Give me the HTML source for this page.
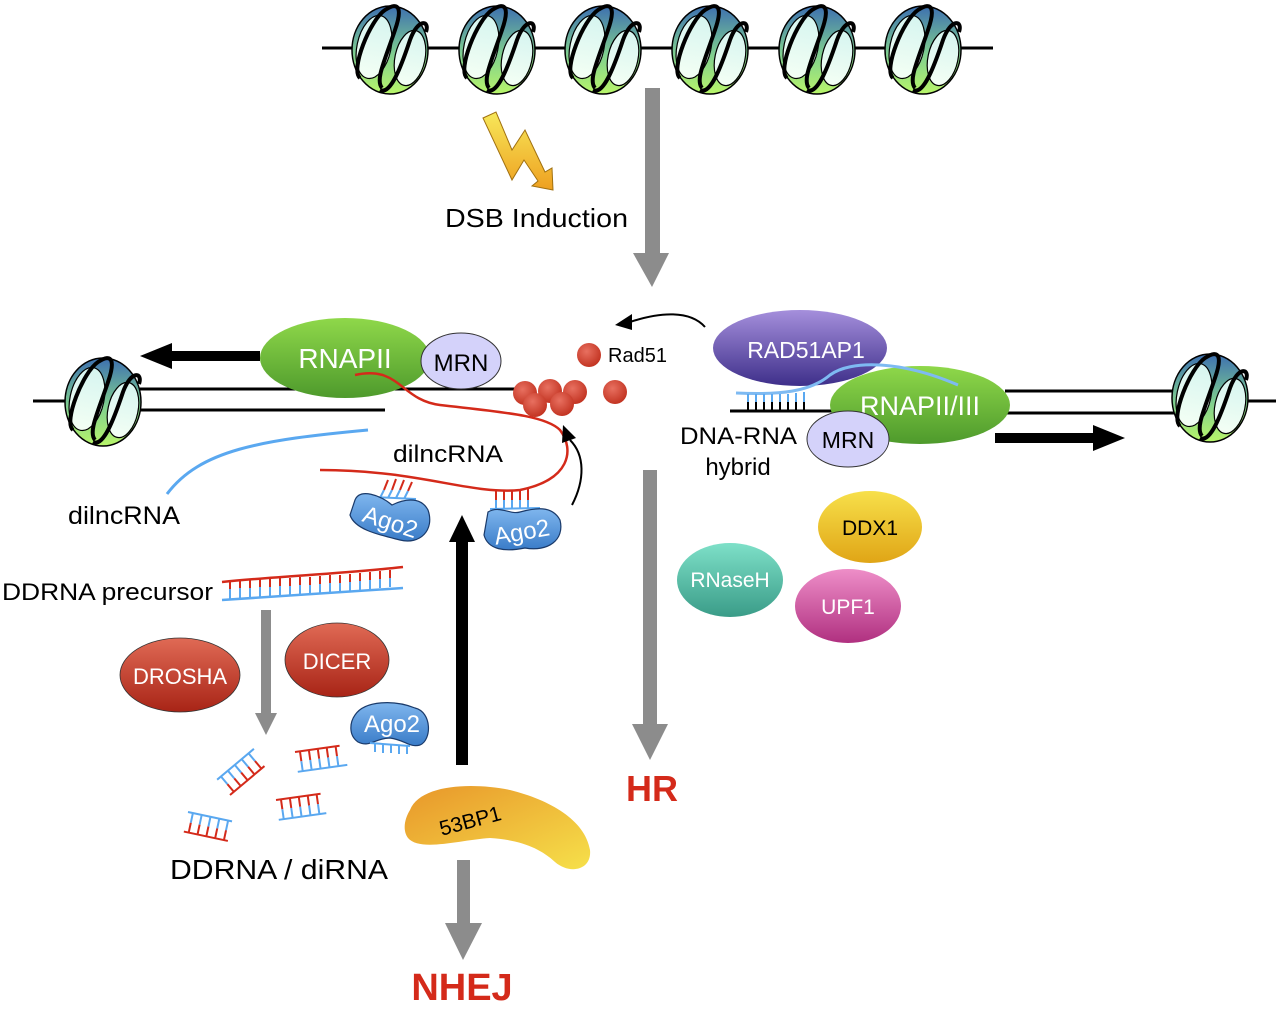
<!DOCTYPE html>
<html><head><meta charset="utf-8"><style>
html,body{margin:0;padding:0;background:#fff}
svg{display:block}
text{font-family:"Liberation Sans",sans-serif}
</style></head><body>
<svg width="1280" height="1013" viewBox="0 0 1280 1013" xmlns="http://www.w3.org/2000/svg">
<defs>
<linearGradient id="ng" x1="0" y1="0" x2="0" y2="1"><stop offset="0" stop-color="#3d6fb0"/><stop offset="0.55" stop-color="#7fcf8f"/><stop offset="1" stop-color="#b8f56a"/></linearGradient>
<linearGradient id="nf" x1="0" y1="0" x2="0" y2="1"><stop offset="0" stop-color="#d6f5f0"/><stop offset="1" stop-color="#f4fff4"/></linearGradient>
<g id="nuc">
<ellipse cx="0" cy="0" rx="38" ry="44" fill="url(#ng)" stroke="#000" stroke-width="1.5"/>
<ellipse cx="-16" cy="-3" rx="17" ry="32" transform="rotate(12 -16 -3)" fill="url(#nf)" stroke="#000" stroke-width="1.2"/>
<ellipse cx="20" cy="8" rx="15" ry="28" transform="rotate(12 20 8)" fill="url(#nf)" stroke="#000" stroke-width="1.2"/>
<path d="M-30 28 C-40 20 -20 -30 -5 -40 C10 -50 12 -40 5 -20 C-5 10 -15 30 -8 38" fill="none" stroke="#000" stroke-width="4"/>
<path d="M-10 40 C0 45 10 20 20 -10 C28 -32 40 -30 36 -18" fill="none" stroke="#000" stroke-width="4"/>
</g>
<linearGradient id="gGreen" x1="0" y1="0" x2="0" y2="1"><stop offset="0" stop-color="#8fd84a"/><stop offset="1" stop-color="#4e9a2c"/></linearGradient>
<linearGradient id="gPurp" x1="0" y1="0" x2="0" y2="1"><stop offset="0" stop-color="#a58fdc"/><stop offset="1" stop-color="#3e2f8a"/></linearGradient>
<linearGradient id="gRed" x1="0" y1="0" x2="0" y2="1"><stop offset="0" stop-color="#e06a55"/><stop offset="1" stop-color="#a82416"/></linearGradient>
<linearGradient id="gYel" x1="0" y1="0" x2="0" y2="1"><stop offset="0" stop-color="#f7e04a"/><stop offset="1" stop-color="#e0a516"/></linearGradient>
<linearGradient id="gTeal" x1="0" y1="0" x2="0" y2="1"><stop offset="0" stop-color="#7ee0c8"/><stop offset="1" stop-color="#3a9c88"/></linearGradient>
<linearGradient id="gPink" x1="0" y1="0" x2="0" y2="1"><stop offset="0" stop-color="#ee8ec8"/><stop offset="1" stop-color="#b03080"/></linearGradient>
<linearGradient id="gBlue" x1="0" y1="0" x2="0" y2="1"><stop offset="0" stop-color="#7fb6ee"/><stop offset="1" stop-color="#3a7cc8"/></linearGradient>
<linearGradient id="g53" x1="0" y1="0" x2="1" y2="1"><stop offset="0" stop-color="#e8962a"/><stop offset="1" stop-color="#f6e04a"/></linearGradient>
<linearGradient id="gBolt" x1="0" y1="0" x2="0" y2="1"><stop offset="0" stop-color="#f7e85a"/><stop offset="1" stop-color="#eea020"/></linearGradient>
<radialGradient id="gDot" cx="0.4" cy="0.35" r="0.7"><stop offset="0" stop-color="#e87060"/><stop offset="1" stop-color="#c0301e"/></radialGradient>
</defs>

<line x1="322" y1="48" x2="993" y2="48" stroke="#000" stroke-width="3"/>
<use href="#nuc" x="390" y="50"/><use href="#nuc" x="497" y="50"/><use href="#nuc" x="603" y="50"/>
<use href="#nuc" x="710" y="50"/><use href="#nuc" x="817" y="50"/><use href="#nuc" x="923" y="50"/>

<path d="M483 118 L496 112 L512 150 L525 130 L545 172 L552 168 L553 190 L532 186 L538 181 L524 160 L512 180 Z" fill="url(#gBolt)" stroke="#a07010" stroke-width="1"/>
<text x="445" y="227" font-size="26" textLength="183" lengthAdjust="spacingAndGlyphs">DSB Induction</text>

<rect x="645" y="88" width="15" height="166" fill="#8c8c8c"/>
<polygon points="633,253 669,253 652,287" fill="#8c8c8c"/>

<line x1="33" y1="401" x2="75" y2="401" stroke="#000" stroke-width="3"/>
<line x1="130" y1="389" x2="515" y2="389" stroke="#000" stroke-width="3"/>
<line x1="130" y1="410" x2="385" y2="410" stroke="#000" stroke-width="3"/>
<use href="#nuc" x="103" y="402"/>
<rect x="170" y="351" width="90" height="10" fill="#000"/>
<polygon points="140,356 172,343 172,369" fill="#000"/>

<path d="M167 494 C200 450 260 440 368 430" fill="none" stroke="#5aa8f0" stroke-width="3"/>
<text x="68" y="524" font-size="25" textLength="112" lengthAdjust="spacingAndGlyphs">dilncRNA</text>

<ellipse cx="345" cy="358" rx="85" ry="40" fill="url(#gGreen)"/>
<text x="345" y="368" font-size="28" fill="#fff" text-anchor="middle">RNAPII</text>
<ellipse cx="461" cy="361" rx="40" ry="28" fill="#d4d2fa" stroke="#333" stroke-width="1"/>
<text x="461" y="371" font-size="24" text-anchor="middle">MRN</text>

<path d="M355 375 C400 365 400 400 440 405 C500 412 545 415 560 430 C575 450 570 480 520 490 C470 495 420 470 320 470" fill="none" stroke="#d42a1a" stroke-width="2.5"/>
<text x="393" y="462" font-size="24" textLength="110" lengthAdjust="spacingAndGlyphs">dilncRNA</text>
<g stroke-width="2">
<g stroke="#d42a1a"><line x1="388" y1="480" x2="384" y2="490"/><line x1="396" y1="479" x2="392" y2="490"/><line x1="404" y1="480" x2="400" y2="490"/><line x1="412" y1="482" x2="408" y2="491"/>
<line x1="496" y1="490" x2="496" y2="500"/><line x1="504" y1="490" x2="504" y2="500"/><line x1="512" y1="490" x2="512" y2="500"/><line x1="520" y1="490" x2="520" y2="500"/><line x1="528" y1="489" x2="528" y2="500"/></g>
<g stroke="#5aa8f0"><line x1="384" y1="490" x2="380" y2="498"/><line x1="392" y1="490" x2="388" y2="498"/><line x1="400" y1="490" x2="396" y2="498"/><line x1="408" y1="491" x2="404" y2="499"/><path d="M374 497 L416 499" fill="none"/>
<line x1="496" y1="500" x2="496" y2="509"/><line x1="504" y1="500" x2="504" y2="509"/><line x1="512" y1="500" x2="512" y2="509"/><line x1="520" y1="500" x2="520" y2="509"/><line x1="528" y1="500" x2="528" y2="509"/><path d="M490 509 L540 508" fill="none"/></g>
</g>
<path d="M355 500 C360 488 380 495 392 505 C402 500 420 495 428 510 C435 530 420 545 400 540 C380 535 355 530 350 515 Z" fill="url(#gBlue)" stroke="#1a3a6a" stroke-width="1.2"/>
<text x="390" y="530" font-size="24" fill="#fff" text-anchor="middle" transform="rotate(18 390 523)">Ago2</text>
<path d="M488 512 C500 505 510 515 520 512 C535 508 552 505 560 520 C565 540 548 552 525 548 C505 552 488 550 484 535 Z" fill="url(#gBlue)" stroke="#1a3a6a" stroke-width="1.2"/>
<text x="522" y="540" font-size="24" fill="#fff" text-anchor="middle" transform="rotate(-10 522 533)">Ago2</text>

<circle cx="589" cy="355" r="12" fill="url(#gDot)"/>
<text x="608" y="362" font-size="20">Rad51</text>
<circle cx="615" cy="392" r="12" fill="url(#gDot)"/>
<circle cx="525" cy="393" r="12" fill="url(#gDot)"/><circle cx="550" cy="391" r="12" fill="url(#gDot)"/><circle cx="575" cy="392" r="12" fill="url(#gDot)"/>
<circle cx="535" cy="405" r="12" fill="url(#gDot)"/><circle cx="562" cy="404" r="12" fill="url(#gDot)"/>
<path d="M572 505 C585 480 585 455 570 440" fill="none" stroke="#000" stroke-width="2"/>
<polygon points="563,425 576,438 562,443" fill="#000"/>
<path d="M705 327 C690 310 660 312 630 322" fill="none" stroke="#000" stroke-width="2"/>
<polygon points="615,325 632,314 632,330" fill="#000"/>

<rect x="456" y="540" width="12" height="225" fill="#000"/>
<polygon points="449,542 475,542 462,515" fill="#000"/>

<rect x="643" y="470" width="14" height="255" fill="#8c8c8c"/>
<polygon points="632,724 668,724 650,760" fill="#8c8c8c"/>
<text x="652" y="801" font-size="36" font-weight="bold" fill="#d42a1a" text-anchor="middle">HR</text>

<line x1="1005" y1="391" x2="1180" y2="391" stroke="#000" stroke-width="3"/>
<line x1="1005" y1="413" x2="1180" y2="413" stroke="#000" stroke-width="3"/>
<line x1="1240" y1="401" x2="1276" y2="401" stroke="#000" stroke-width="3"/>
<use href="#nuc" x="1210" y="398"/>
<line x1="730" y1="411" x2="840" y2="411" stroke="#000" stroke-width="3"/>
<ellipse cx="800" cy="348" rx="87" ry="38" fill="url(#gPurp)"/>
<text x="806" y="358" font-size="23" fill="#fff" text-anchor="middle">RAD51AP1</text>
<ellipse cx="920" cy="405" rx="90" ry="39" fill="url(#gGreen)"/>
<text x="920" y="415" font-size="27" fill="#fff" text-anchor="middle">RNAPII/III</text>
<path d="M736 393 C780 395 810 392 830 375 C850 360 900 360 958 385" fill="none" stroke="#7ebaf2" stroke-width="3"/>
<g stroke="#5aa8f0" stroke-width="2"><line x1="748" y1="394" x2="748" y2="402"/><line x1="756" y1="394" x2="756" y2="402"/><line x1="764" y1="394" x2="764" y2="402"/><line x1="772" y1="394" x2="772" y2="402"/><line x1="780" y1="394" x2="780" y2="402"/><line x1="788" y1="394" x2="788" y2="402"/><line x1="796" y1="393" x2="796" y2="402"/><line x1="804" y1="392" x2="804" y2="402"/></g>
<g stroke="#000" stroke-width="2"><line x1="748" y1="402" x2="748" y2="410"/><line x1="756" y1="402" x2="756" y2="410"/><line x1="764" y1="402" x2="764" y2="410"/><line x1="772" y1="402" x2="772" y2="410"/><line x1="780" y1="402" x2="780" y2="410"/><line x1="788" y1="402" x2="788" y2="410"/><line x1="796" y1="402" x2="796" y2="410"/><line x1="804" y1="402" x2="804" y2="410"/></g>
<ellipse cx="848" cy="439" rx="41" ry="28" fill="#d4d2fa" stroke="#333" stroke-width="1"/>
<text x="848" y="448" font-size="23" text-anchor="middle">MRN</text>
<text x="680" y="444" font-size="24" textLength="117" lengthAdjust="spacingAndGlyphs">DNA-RNA</text>
<text x="738" y="475" font-size="24" text-anchor="middle">hybrid</text>
<rect x="995" y="433" width="100" height="10" fill="#000"/>
<polygon points="1125,438 1093,425 1093,451" fill="#000"/>

<ellipse cx="870" cy="527" rx="52" ry="36" fill="url(#gYel)"/>
<text x="870" y="535" font-size="21" text-anchor="middle">DDX1</text>
<ellipse cx="730" cy="580" rx="53" ry="37" fill="url(#gTeal)"/>
<text x="730" y="587" font-size="21" fill="#fff" text-anchor="middle">RNaseH</text>
<ellipse cx="848" cy="606" rx="53" ry="37" fill="url(#gPink)"/>
<text x="848" y="614" font-size="21" fill="#fff" text-anchor="middle">UPF1</text>

<text x="2" y="600" font-size="24" textLength="211" lengthAdjust="spacingAndGlyphs">DDRNA precursor</text>
<path d="M222 582 C280 576 340 574 403 567" fill="none" stroke="#d42a1a" stroke-width="2.5"/>
<path d="M222 600 C280 596 340 592 403 588" fill="none" stroke="#5aa8f0" stroke-width="2.5"/>
<g stroke-width="2">
<g stroke="#d42a1a"><path d="M230 581v8M240 580v8M250 580v8M260 579v8M270 579v8M280 578v8M290 578v8M300 577v8M310 577v8M320 576v8M330 575v8M340 575v8M350 574v8M360 573v8M370 572v8M380 571v8M390 570v8"/></g>
<g stroke="#5aa8f0"><path d="M230 589v10M240 588v10M250 588v10M260 587v10M270 587v10M280 586v9M290 586v9M300 585v9M310 585v9M320 584v9M330 583v9M340 583v9M350 582v9M360 581v9M370 580v9M380 579v9M390 578v9"/></g>
</g>
<rect x="261" y="610" width="10" height="105" fill="#8c8c8c"/>
<polygon points="255,713 277,713 266,735" fill="#8c8c8c"/>

<ellipse cx="180" cy="675" rx="60" ry="37" fill="url(#gRed)" stroke="#333" stroke-width="0.8"/>
<text x="180" y="684" font-size="22" fill="#fff" text-anchor="middle">DROSHA</text>
<ellipse cx="337" cy="660" rx="52" ry="37" fill="url(#gRed)" stroke="#333" stroke-width="0.8"/>
<text x="337" y="669" font-size="22" fill="#fff" text-anchor="middle">DICER</text>

<path d="M355 715 C365 700 395 700 415 708 C432 712 432 740 420 745 C410 748 405 740 390 738 C375 738 370 748 358 742 C348 735 350 722 355 715 Z" fill="url(#gBlue)" stroke="#1a3a6a" stroke-width="1.2"/>
<text x="392" y="732" font-size="24" fill="#fff" text-anchor="middle">Ago2</text>
<path d="M370 743 L410 746" stroke="#5aa8f0" stroke-width="2"/>
<path d="M375 744v8M383 745v8M391 745v8M399 746v8M407 746v8" stroke="#5aa8f0" stroke-width="2"/>

<g stroke-width="2" fill="none">
<g transform="translate(295,752) rotate(-8)"><path d="M0 0 H45" stroke="#d42a1a"/><path d="M0 20 H50" stroke="#5aa8f0"/><path d="M5 0v10M14 0v10M23 0v10M32 0v10M41 0v10" stroke="#d42a1a"/><path d="M5 10v10M14 10v10M23 10v10M32 10v10M41 10v10" stroke="#5aa8f0"/></g>
<g transform="translate(276,800) rotate(-8)"><path d="M0 0 H45" stroke="#d42a1a"/><path d="M0 20 H48" stroke="#5aa8f0"/><path d="M5 0v10M14 0v10M23 0v10M32 0v10M41 0v10" stroke="#d42a1a"/><path d="M5 10v10M14 10v10M23 10v10M32 10v10M41 10v10" stroke="#5aa8f0"/></g>
<g transform="translate(230,795) rotate(-40)"><path d="M0 0 H45" stroke="#d42a1a"/><path d="M0 -20 H48" stroke="#5aa8f0"/><path d="M5 0v-10M14 0v-10M23 0v-10M32 0v-10M41 0v-10" stroke="#d42a1a"/><path d="M5 -10v-10M14 -10v-10M23 -10v-10M32 -10v-10M41 -10v-10" stroke="#5aa8f0"/></g>
<g transform="translate(188,812) rotate(12)"><path d="M0 0 H45" stroke="#5aa8f0"/><path d="M0 20 H45" stroke="#d42a1a"/><path d="M5 0v10M14 0v10M23 0v10M32 0v10M41 0v10" stroke="#5aa8f0"/><path d="M5 10v10M14 10v10M23 10v10M32 10v10M41 10v10" stroke="#d42a1a"/></g>
</g>
<text x="170" y="879" font-size="28" textLength="218" lengthAdjust="spacingAndGlyphs">DDRNA / diRNA</text>

<path d="M410 810 C420 785 470 782 510 790 C550 800 585 820 590 850 C592 870 570 875 555 862 C540 848 520 840 490 838 C460 840 420 852 408 838 C402 830 405 818 410 810 Z" fill="url(#g53)"/>
<text x="470" y="828" font-size="21" text-anchor="middle" transform="rotate(-15 470 820)">53BP1</text>
<rect x="457" y="860" width="13" height="65" fill="#8c8c8c"/>
<polygon points="445,923 482,923 463,960" fill="#8c8c8c"/>
<text x="462" y="1000" font-size="38" font-weight="bold" fill="#d42a1a" text-anchor="middle">NHEJ</text>
</svg>
</body></html>
